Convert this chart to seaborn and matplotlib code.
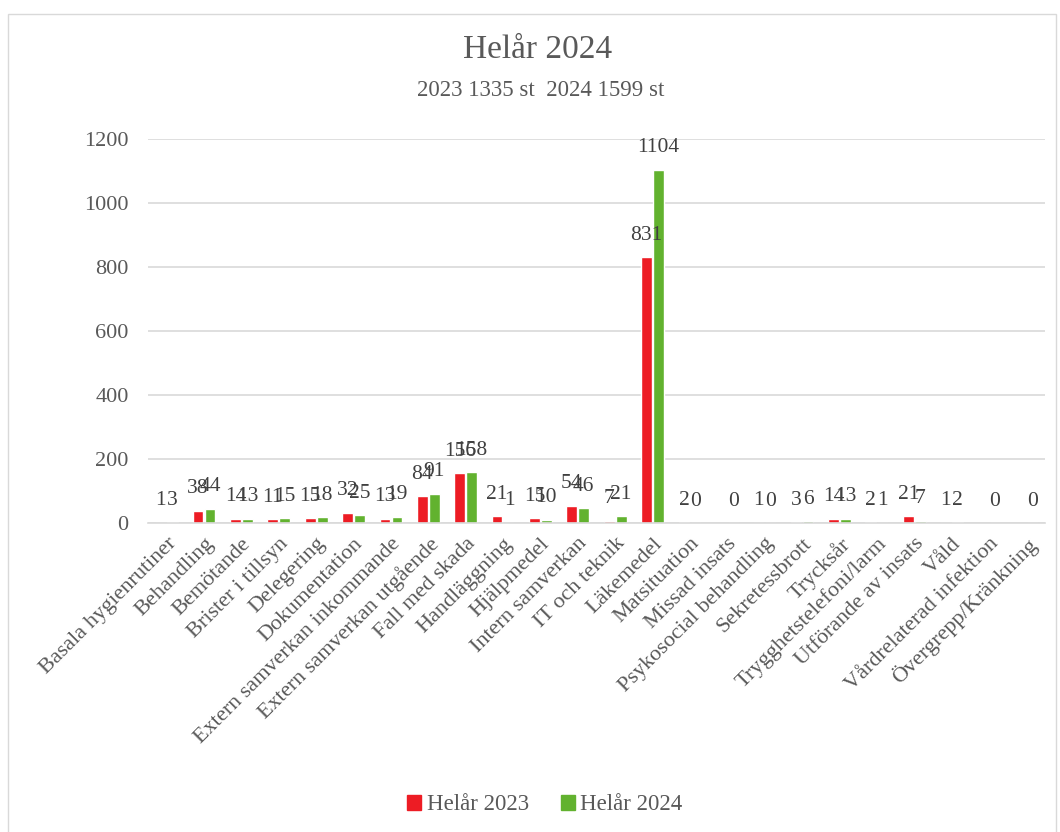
import numpy as np
import pandas as pd
import matplotlib
matplotlib.use("Agg")
import matplotlib.pyplot as plt
from matplotlib.patches import Rectangle
import seaborn as sns

categories = [
    "Basala hygienrutiner", "Behandling", "Bemötande", "Brister i tillsyn",
    "Delegering", "Dokumentation", "Extern samverkan inkommande",
    "Extern samverkan utgående", "Fall med skada", "Handläggning",
    "Hjälpmedel", "Intern samverkan", "IT och teknik", "Läkemedel",
    "Matsituation", "Missad insats", "Psykosocial behandling",
    "Sekretessbrott", "Trycksår", "Trygghetstelefoni/larm",
    "Utförande av insats", "Våld", "Vårdrelaterad infektion",
    "Övergrepp/Kränkning",
]
helar_2023 = [1, 38, 14, 11, 15, 32, 13, 84, 156, 21, 15, 54, 7, 831,
              2, np.nan, 1, 3, 14, 2, 21, 1, np.nan, np.nan]
helar_2024 = [3, 44, 13, 15, 18, 25, 19, 91, 158, 1, 10, 46, 21, 1104,
              0, 0, 0, 6, 13, 1, 7, 2, 0, 0]
series_names = ["Helår 2023", "Helår 2024"]
series_colors = ["#ED1C24", "#62B22F"]
title = "Helår 2024"
subtitle = "2023 1335 st  2024 1599 st"

df = pd.DataFrame({
    "Kategori": categories * 2,
    "Serie": [series_names[0]] * len(categories) + [series_names[1]] * len(categories),
    "Antal": helar_2023 + helar_2024,
})

sns.set_theme(style="white")
plt.rcParams["font.family"] = ["Liberation Serif", "DejaVu Serif"]
text_color = "#595959"
grid_color = "#D9D9D9"

fig = plt.figure(figsize=(10.6, 8.32), dpi=100)
ax = fig.add_axes([148 / 1060, 1 - 523 / 832, (1045 - 148) / 1060, (523 - 139) / 832])

sns.barplot(
    data=df, x="Kategori", y="Antal", hue="Serie", order=categories,
    hue_order=series_names, palette=series_colors, width=0.64, gap=0.1,
    ax=ax, legend=False, saturation=1,
)

for cont in ax.containers:
    ax.bar_label(cont, fmt="%.0f", padding=9, fontsize=15.5, color="#404040")

ax.set_ylim(0, 1200)
ax.set_yticks(np.arange(0, 1201, 200))
ax.yaxis.grid(True, color=grid_color, linewidth=1.2)
ax.set_axisbelow(True)
for s in ["top", "right", "left"]:
    ax.spines[s].set_visible(False)
ax.spines["bottom"].set_color(grid_color)
ax.spines["bottom"].set_linewidth(1.2)
ax.set_xlabel("")
ax.set_ylabel("")
ax.tick_params(axis="both", length=0, labelcolor=text_color, labelsize=16)
ax.tick_params(axis="y", pad=14)
ax.set_xticks(range(len(categories)))
ax.set_xticklabels(categories, rotation=45, ha="right", va="top",
                   rotation_mode="anchor")
ax.tick_params(axis="x", pad=8)

fig.text(538 / 1060, 1 - 50 / 832, title, ha="center", va="center",
         fontsize=24, color=text_color)
fig.text(541 / 1060, 1 - 91 / 832, subtitle, ha="center", va="center",
         fontsize=16.5, color=text_color)

handles = [Rectangle((0, 0), 1, 1, color=c) for c in series_colors]
fig.legend(handles, series_names, loc="center", bbox_to_anchor=(545 / 1060, 1 - 805 / 832),
           ncol=2, frameon=False, fontsize=16.5, labelcolor=text_color,
           handlelength=0.6, handleheight=0.6, handletextpad=0.25, columnspacing=1.4)

fig.patches.append(Rectangle((8 / 1060, -0.05), (1056 - 8) / 1060, 1 - 14 / 832 + 0.05,
                             transform=fig.transFigure, fill=False,
                             edgecolor=grid_color, linewidth=1))

fig.savefig("out.png", dpi=100)
